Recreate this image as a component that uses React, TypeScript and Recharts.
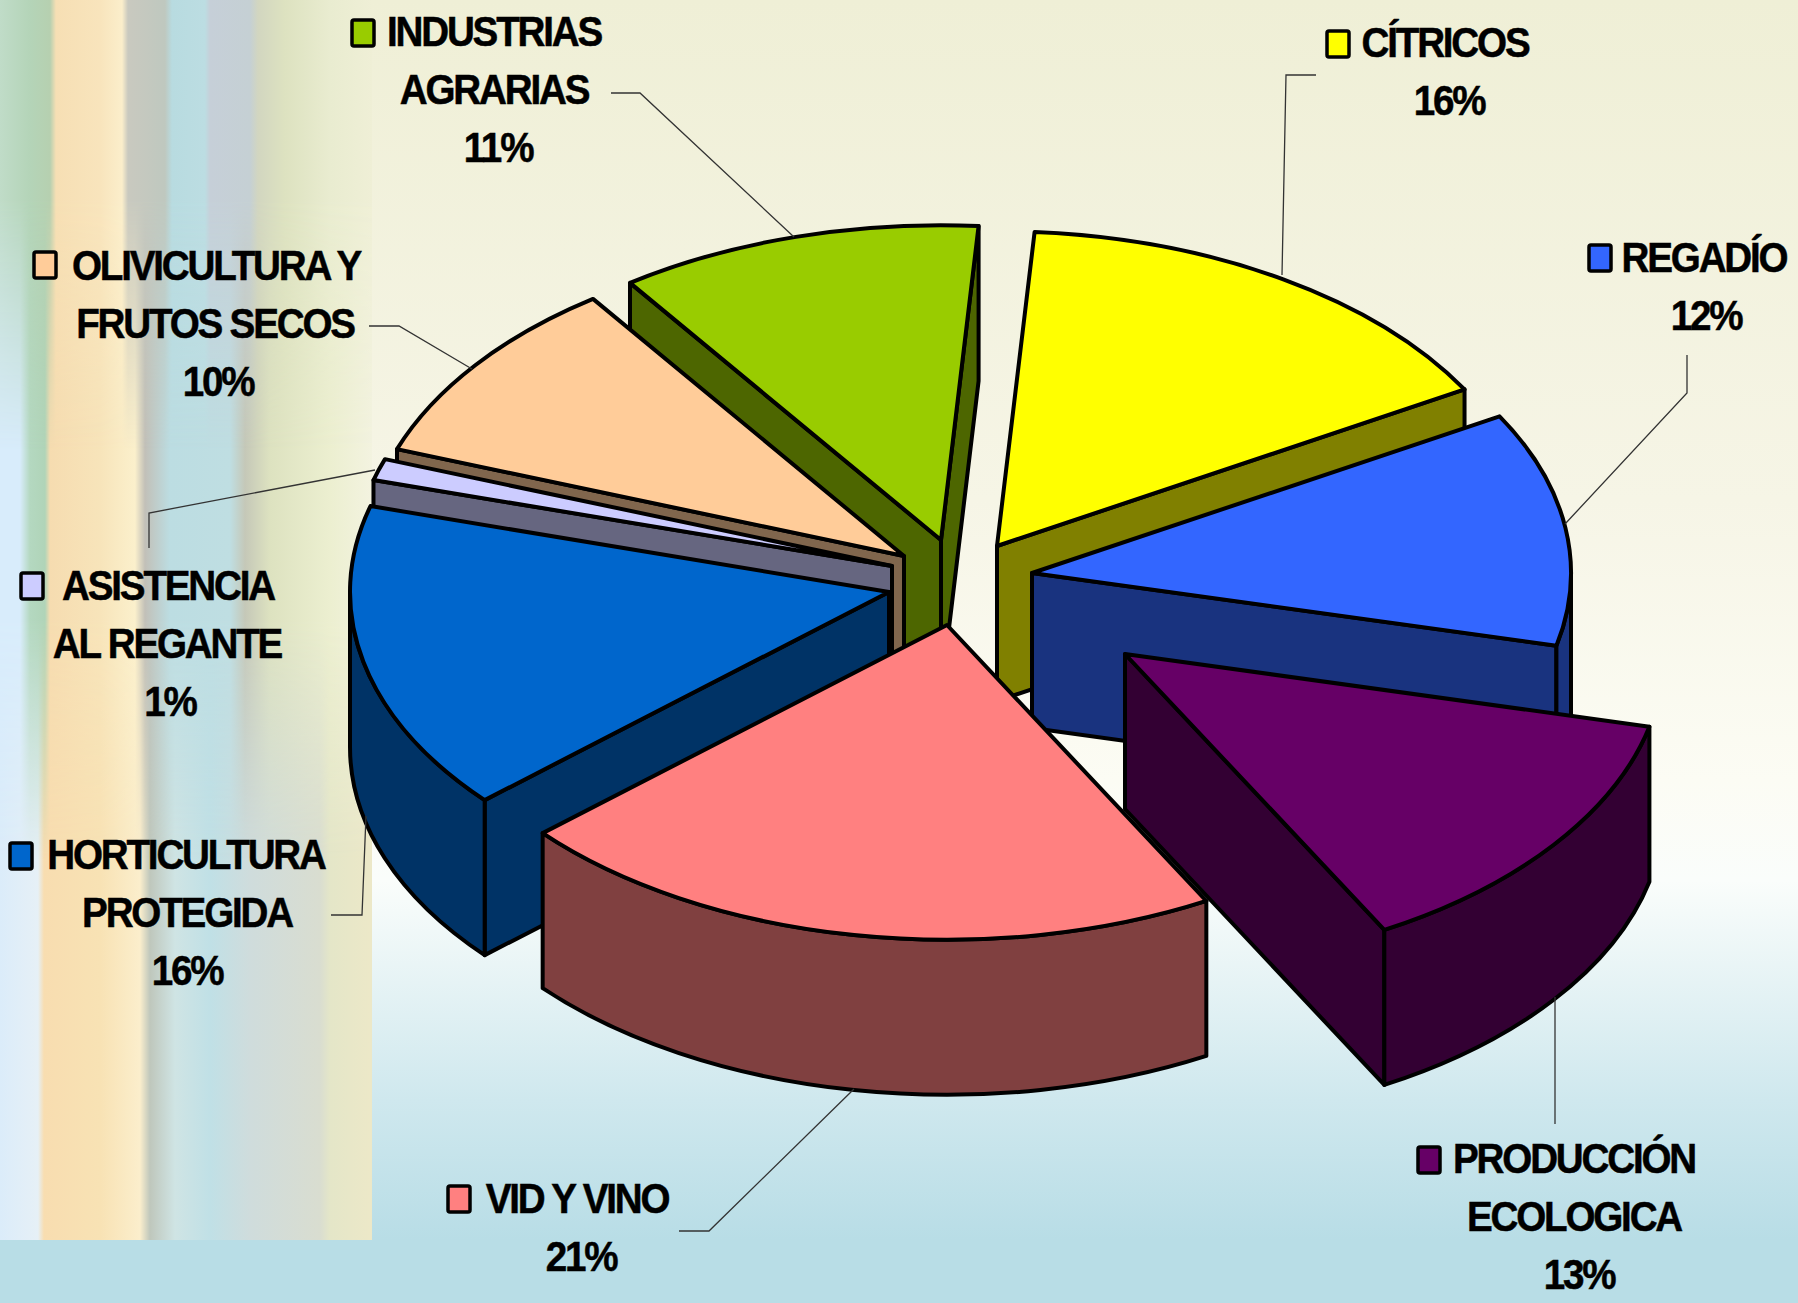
import { Pie, PieChart } from "recharts";

const NAMES = [
  "CÍTRICOS",
  "REGADÍO",
  "PRODUCCIÓN ECOLOGICA",
  "VID Y VINO",
  "HORTICULTURA PROTEGIDA",
  "ASISTENCIA AL REGANTE",
  "OLIVICULTURA Y FRUTOS SECOS",
  "INDUSTRIAS AGRARIAS",
];
const VALUES = [15.6, 12.0, 13.3, 21.49, 15.9, 1.11, 9.7, 10.9];
const NAME_LINES = [
  ["CÍTRICOS"],
  ["REGADÍO"],
  ["PRODUCCIÓN", "ECOLOGICA"],
  ["VID Y VINO"],
  ["HORTICULTURA", "PROTEGIDA"],
  ["ASISTENCIA", "AL REGANTE"],
  ["OLIVICULTURA Y", "FRUTOS SECOS"],
  ["INDUSTRIAS", "AGRARIAS"],
];
const TOP_COLORS = ["#ffff00", "#3366ff", "#660066", "#ff8080", "#0066cc", "#ccccff", "#ffcc99", "#99cc00"];
const WALL_COLORS = ["#808000", "#19337f", "#330033", "#804040", "#003366", "#666680", "#80664d", "#4d6600"];

// slices pulled out of the pie, px from the pie centre
const EXPLODE = [
  [51, -33],
  [86, -6],
  [179, 75],
  [1, 46],
  [-57, 13],
  [-54, -13],
  [-42, -23],
  [-5, -39],
];
// back to front, so the nearer slices cover the walls behind them
const PAINT_ORDER = [0, 1, 7, 6, 5, 4, 2, 3];

const WIDTH = 1798;
const HEIGHT = 1303;
const CX = 946;
const CY = 579;
const RADIUS = 539;
const TILT = 0.584;
const DEPTH = 155;
const START_ANGLE = 86;

// label layout: swatch x/y, line centres, first baseline, leader line
const LABELS = [
  { sx: 1327, sy: 31, cx: [1445, 1449], base: 57, leader: "1316,75 1286,75 1282,275" },
  { sx: 1589, sy: 245, cx: [1704, 1706], base: 272, leader: "1687,355 1687,393 1565,524" },
  { sx: 1418, sy: 1147, cx: [1574, 1574, 1579], base: 1173, leader: "1555,997 1555,1124" },
  { sx: 448, sy: 1186, cx: [577, 581], base: 1213, leader: "679,1231 709,1231 854,1089" },
  { sx: 10, sy: 843, cx: [186, 187, 187], base: 869, leader: "331,915 362,915 366,816" },
  { sx: 21, sy: 573, cx: [168, 167, 170], base: 600, leader: "149,548 149,513 375,470" },
  { sx: 34, sy: 252, cx: [216, 215, 218], base: 280, leader: "369,326 399,326 472,369" },
  { sx: 352, sy: 20, cx: [494, 494, 498], base: 46, leader: "611,93 640,93 794,237" },
];
const LINE_HEIGHT = 58;

const tableData = NAMES.map((name, id) => ({ id, name, value: VALUES[id] }));

const pt = (x: number, y: number, theta: number) => {
  const a = (theta * Math.PI) / 180;
  return [x + RADIUS * Math.sin(a), y - RADIUS * TILT * Math.cos(a)];
};

function Slice3D({ id, cx, cy, startAngle, endAngle }: any) {
  const [dx, dy] = EXPLODE[id];
  const x = cx + dx;
  const y = cy + dy;
  const rx = RADIUS;
  const ry = RADIUS * TILT;
  // clockwise from 12 o'clock
  const t0 = 90 - startAngle;
  const t1 = 90 - endAngle;
  const [sx, sy] = pt(x, y, t0);
  const [ex, ey] = pt(x, y, t1);
  const large = t1 - t0 > 180 ? 1 : 0;
  const wall = WALL_COLORS[id];
  const faces = [];

  const quad = (px: number, py: number, key: string) => (
    <path
      key={key}
      d={`M${x},${y} L${px},${py} L${px},${py + DEPTH} L${x},${y + DEPTH} Z`}
      fill={wall}
      stroke="#000"
      strokeWidth={4}
      strokeLinejoin="round"
    />
  );
  if (Math.sin((t0 * Math.PI) / 180) < 0) faces.push(quad(sx, sy, "start"));
  if (Math.sin((t1 * Math.PI) / 180) > 0) faces.push(quad(ex, ey, "end"));

  const a0 = Math.max(t0, 90);
  const a1 = Math.min(t1, 270);
  if (a1 > a0) {
    const [ax, ay] = pt(x, y, a0);
    const [bx, by] = pt(x, y, a1);
    faces.push(
      <path
        key="outer"
        d={`M${ax},${ay} A${rx},${ry} 0 0 1 ${bx},${by} L${bx},${by + DEPTH} A${rx},${ry} 0 0 0 ${ax},${ay + DEPTH} Z`}
        fill={wall}
        stroke="#000"
        strokeWidth={4}
        strokeLinejoin="round"
      />
    );
  }

  return (
    <g>
      {faces}
      <path
        d={`M${x},${y} L${sx},${sy} A${rx},${ry} 0 ${large} 1 ${ex},${ey} Z`}
        fill={TOP_COLORS[id]}
        stroke="#000"
        strokeWidth={4}
        strokeLinejoin="round"
      />
    </g>
  );
}

function SliceLabel({ id, value }: { id: number; value: number }) {
  const layout = LABELS[id];
  const lines = [...NAME_LINES[id], `${Math.round(value)}%`];
  return (
    <g>
      <polyline points={layout.leader} fill="none" stroke="#333" strokeWidth={1.3} />
      <rect
        x={layout.sx}
        y={layout.sy}
        width={22}
        height={26}
        rx={2}
        fill={TOP_COLORS[id]}
        stroke="#000"
        strokeWidth={3.5}
      />
      {lines.map((line, i) => (
        <text
          key={line}
          transform={`translate(${layout.cx[i]},${layout.base + i * LINE_HEIGHT}) scale(0.92,1)`}
          textAnchor="middle"
          fontFamily="'Liberation Sans', Arial, sans-serif"
          fontWeight="bold"
          fontSize={42}
          letterSpacing={-2.4}
          fill="#000"
          stroke="#000"
          strokeWidth={0.5}
        >
          {line}
        </text>
      ))}
    </g>
  );
}

const band = (stops: [number, string][]) =>
  `linear-gradient(to right, ${stops.map(([x, c]) => `${c} ${x}px`).join(", ")})`;

const STRIPES_TOP: [number, string][] = [
  [0, "#c0dcc8"], [30, "#b4d4b8"], [50, "#b6d0b0"], [56, "#f6dfb4"], [100, "#f8e4bc"], [122, "#fbeecb"],
  [128, "#c9c9bf"], [165, "#bfc8bf"], [172, "#b8dbe0"], [205, "#bcdde2"], [210, "#c6cfd8"], [250, "#c5d0d4"],
  [258, "#d2d6c0"], [285, "#dde2c0"], [330, "#e9ecd0"], [372, "#efefd6"],
];
const STRIPES_MID: [number, string][] = [
  [0, "#d8ecfb"], [20, "#d8ecfb"], [30, "#b4d8c0"], [45, "#b0d4b8"], [50, "#f6dcb0"], [100, "#f7e4ba"],
  [135, "#fbf0cc"], [145, "#c2c0b8"], [170, "#bcdde2"], [230, "#bfdee2"], [245, "#c5c8b8"], [270, "#dde2c0"],
  [330, "#ecefd0"], [372, "#f3f3e0"],
];
const STRIPES_LOW: [number, string][] = [
  [0, "#dbecfa"], [38, "#e6f0f6"], [44, "#f8ddb0"], [100, "#f8e2b4"], [140, "#fbeecc"], [150, "#bfc7bc"],
  [175, "#cfe4e4"], [210, "#c0e0e6"], [250, "#cfdcdc"], [320, "#d9ddd0"], [330, "#e4e6c8"], [370, "#ece8c8"],
];

function Background() {
  const layer = (image: string, mask: string) => (
    <div
      style={{
        position: "absolute",
        left: 0,
        top: 0,
        width: 372,
        height: 1240,
        backgroundImage: image,
        backgroundRepeat: "no-repeat",
        maskImage: mask,
        WebkitMaskImage: mask,
      }}
    />
  );
  return (
    <div
      style={{
        position: "absolute",
        inset: 0,
        background:
          "linear-gradient(to bottom, #efefd6 0, #f6f5e6 500px, #fcfcf4 780px, #fafdfb 880px, #cfe8ee 1100px, #b8dde6 1240px, #b8dde6 1303px)",
      }}
    >
      {layer(band(STRIPES_LOW), "linear-gradient(to bottom, #000 0, #000 1240px)")}
      {layer(band(STRIPES_MID), "linear-gradient(to bottom, #000 0, #000 620px, transparent 860px)")}
      {layer(band(STRIPES_TOP), "linear-gradient(to bottom, #000 0, #000 200px, transparent 450px)")}
    </div>
  );
}

export default function App() {
  return (
    <div style={{ position: "absolute", left: 0, top: 0, width: WIDTH, height: HEIGHT, overflow: "hidden" }}>
      <Background />
      <div style={{ position: "absolute", left: 0, top: 0 }}>
        <PieChart width={WIDTH} height={HEIGHT} margin={{ top: 0, right: 0, bottom: 0, left: 0 }}>
          {PAINT_ORDER.map((id) => {
            const drawSlice = (props: any) => {
              const sliceId = props.id ?? props.payload?.id;
              return sliceId === id ? <Slice3D {...props} id={id} /> : <g />;
            };
            return (
              <Pie
                key={id}
                data={tableData}
                dataKey="value"
                nameKey="name"
                cx={CX}
                cy={CY}
                innerRadius={0}
                outerRadius={RADIUS}
                startAngle={START_ANGLE}
                endAngle={START_ANGLE - 360}
                stroke="none"
                isAnimationActive={false}
                shape={drawSlice}
                inactiveShape={drawSlice}
                activeShape={drawSlice}
                labelLine={false}
                label={(props: any) =>
                  props.index === id ? <SliceLabel id={id} value={VALUES[id]} /> : <g />
                }
              />
            );
          })}
        </PieChart>
      </div>
    </div>
  );
}
